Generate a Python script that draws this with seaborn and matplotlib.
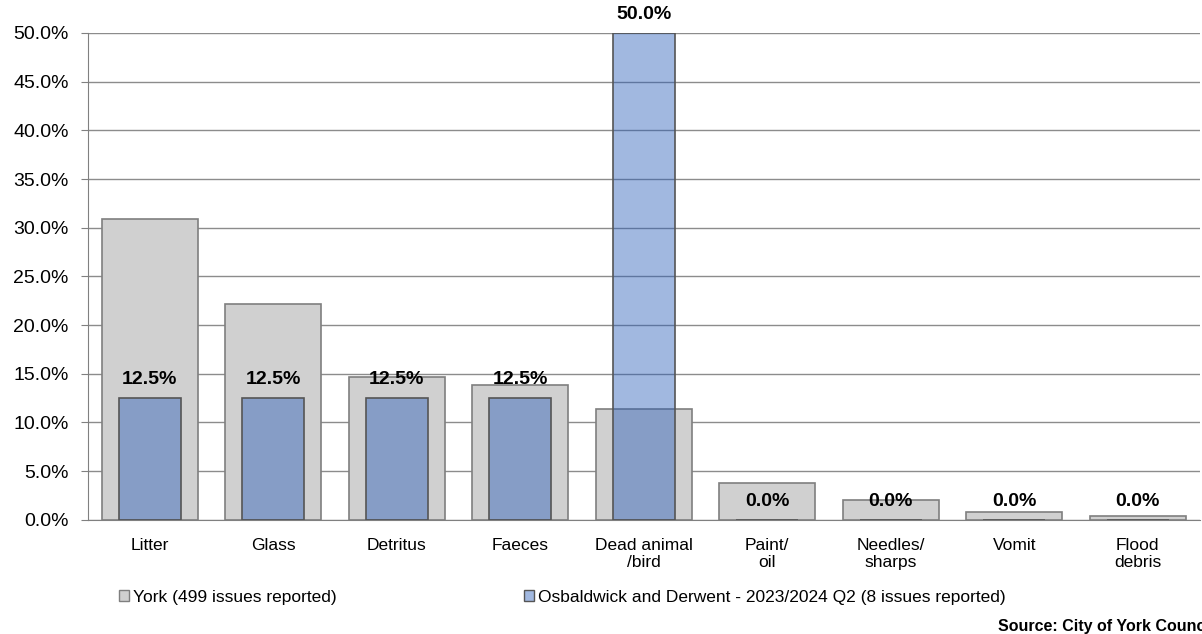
import numpy as np
import pandas as pd
import seaborn as sns
import matplotlib.pyplot as plt
from matplotlib.patches import Patch

categories = ['Litter', 'Glass', 'Detritus', 'Faeces', 'Dead animal\n/bird',
              'Paint/\noil', 'Needles/\nsharps', 'Vomit', 'Flood\ndebris']
york = [30.9, 22.2, 14.7, 13.8, 11.4, 3.8, 2.0, 0.8, 0.4]
osbaldwick = [12.5, 12.5, 12.5, 12.5, 50.0, 0.0, 0.0, 0.0, 0.0]
york_label = 'York (499 issues reported)'
osb_label = 'Osbaldwick and Derwent - 2023/2024 Q2 (8 issues reported)'

sns.set_style('white')
plt.rcParams['font.family'] = ['Liberation Sans', 'DejaVu Sans']
plt.rcParams['text.color'] = 'black'
plt.rcParams['xtick.labelcolor'] = 'black'
plt.rcParams['ytick.labelcolor'] = 'black'

df = pd.DataFrame({'cat': categories, 'york': york, 'osb': osbaldwick})

fig = plt.figure(figsize=(12.02, 6.34), dpi=100)
ax = fig.add_axes([0.0732, 0.18, 0.9248, 0.768])

grey = '#D0D0D0'
blue = (37/255, 91/255, 185/255, 0.43)
sns.barplot(data=df, x='cat', y='york', color=grey, width=0.78,
            edgecolor='#7F7F7F', linewidth=1.2, saturation=1, ax=ax, zorder=2)
sns.barplot(data=df, x='cat', y='osb', width=0.5,
            edgecolor='#555555', linewidth=1.2, saturation=1, ax=ax, zorder=3,
            facecolor=blue)

# labels for the local ward series
for i, v in enumerate(osbaldwick):
    ax.annotate(f'{v:.1f}%', (i, v), xytext=(0, 7), textcoords='offset points',
                ha='center', va='bottom', fontsize=14, fontweight='bold',
                color='black', zorder=5)

ax.set_xlim(-0.5, 8.5)
ax.set_ylim(0, 50)
yt = np.arange(0, 50.1, 5)
ax.set_yticks(yt)
ax.set_yticklabels([f'{t:.1f}%' for t in yt], fontsize=14)
ax.set_xticks(range(len(categories)))
ax.set_xticklabels(categories, fontsize=12.5)
ax.tick_params(axis='x', length=0, pad=13)
ax.set_xticks(np.arange(-0.5, 9, 1), minor=True)
ax.tick_params(axis='x', which='minor', length=6, color='#808080', direction='out')
ax.tick_params(axis='y', length=5, color='#808080', direction='out', left=True, pad=9)
ax.set_xlabel('')
ax.set_ylabel('')
ax.grid(axis='y', color='#8C8C8C', linewidth=1, zorder=0)
ax.set_axisbelow(True)
for s in ['top', 'right']:
    ax.spines[s].set_visible(False)
for s in ['left', 'bottom']:
    ax.spines[s].set_color('#808080')

handles = [Patch(facecolor=grey, edgecolor='#7F7F7F', label=york_label),
           Patch(facecolor=blue, edgecolor='#555555', label=osb_label)]
fig.legend(handles=handles, loc='center left', bbox_to_anchor=(0.086, 0.058),
           ncol=2, frameon=False, fontsize=12.5, handlelength=0.6, handleheight=0.6,
           handletextpad=0.2, columnspacing=10.8)

# source note runs off the right edge, as in the original
fig.text(0.830, 0.0126, 'Source: City of York Council', fontsize=11.5,
         fontweight='bold', ha='left', va='center')

fig.savefig('out.png', dpi=100)
